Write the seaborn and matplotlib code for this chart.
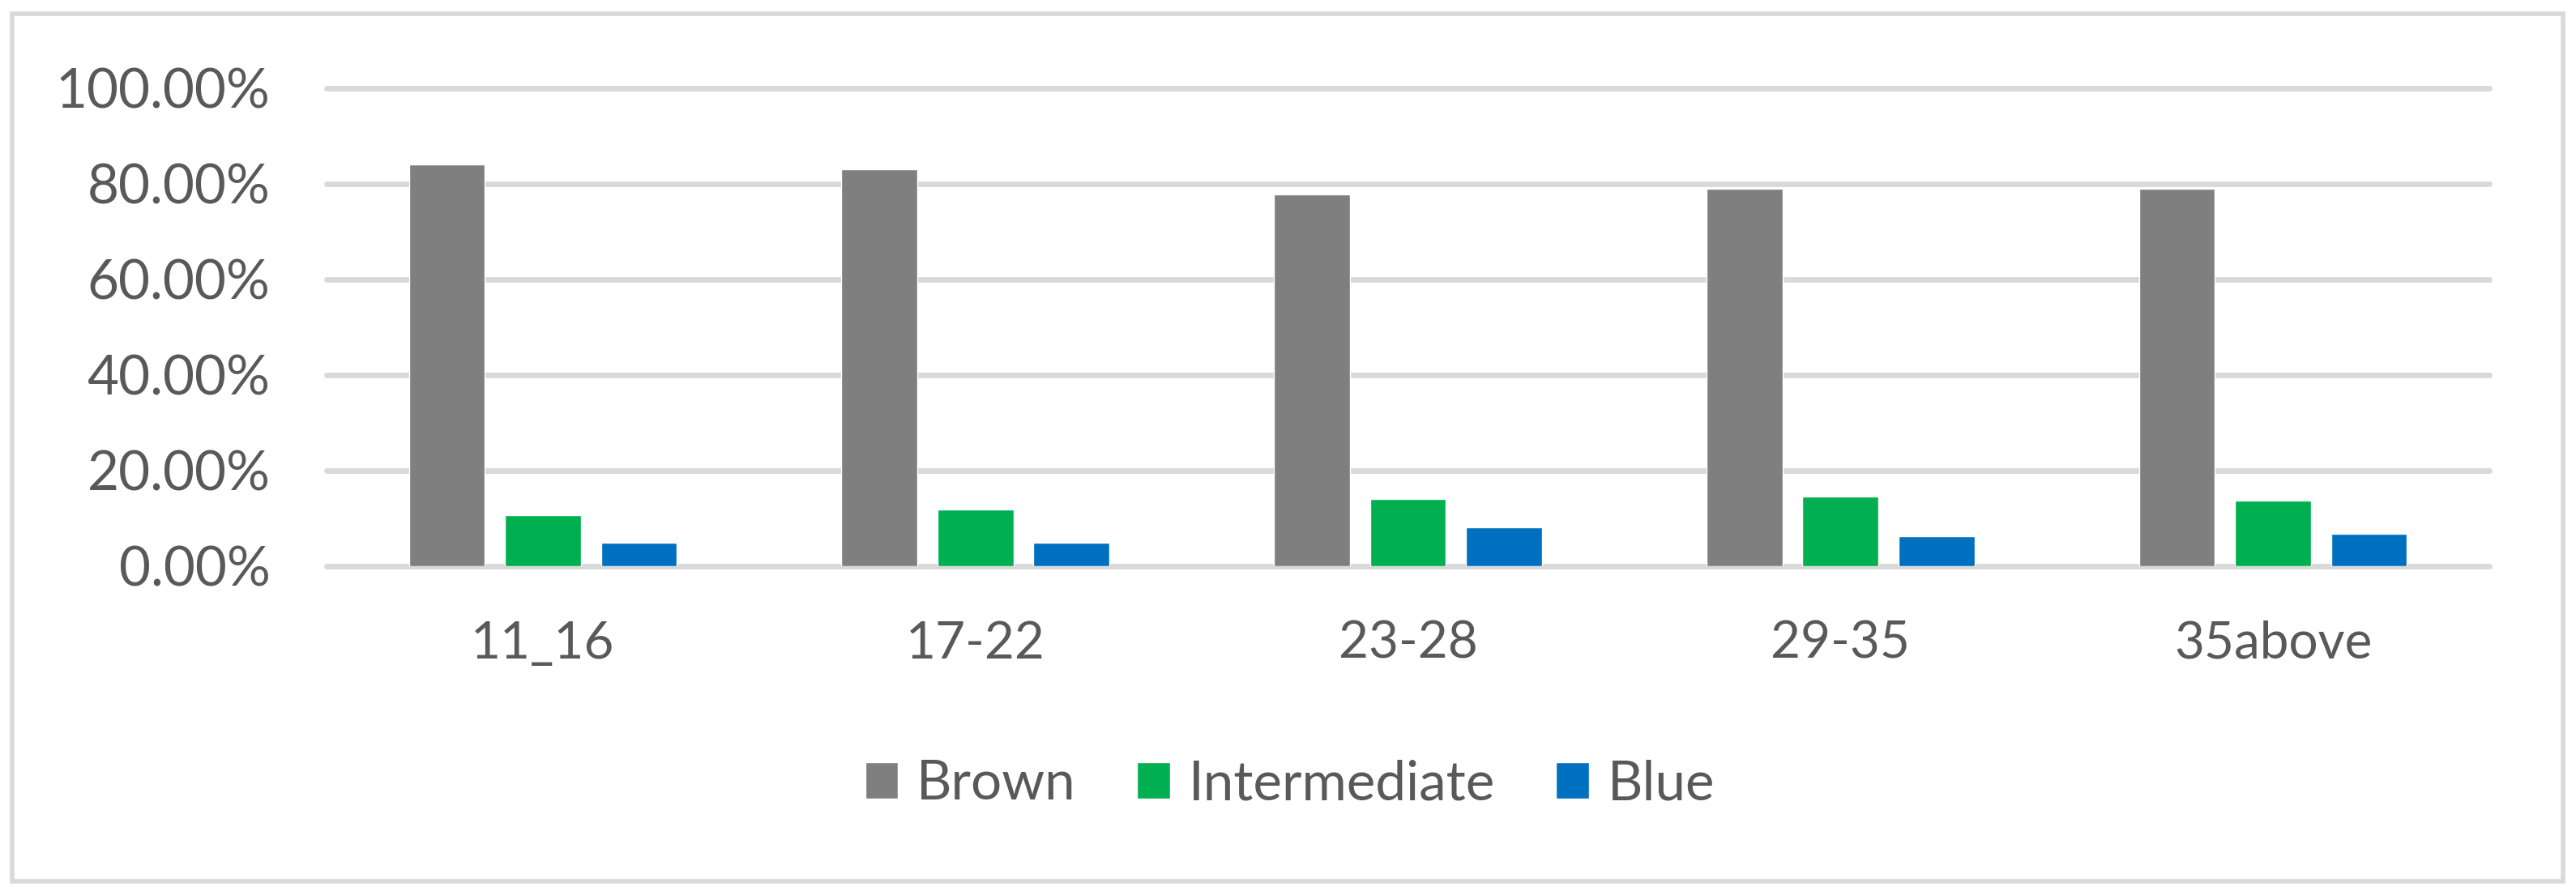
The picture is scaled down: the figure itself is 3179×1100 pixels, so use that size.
import matplotlib
matplotlib.use("Agg")
import matplotlib.pyplot as plt
import numpy as np
import pandas as pd
import seaborn as sns
from matplotlib.patches import Rectangle
from matplotlib.ticker import PercentFormatter

categories = ["11_16", "17-22", "23-28", "29-35", "35above"]
series = ["Brown", "Intermediate", "Blue"]
brown = [0.840, 0.831, 0.778, 0.790, 0.790]
intermediate = [0.106, 0.119, 0.141, 0.146, 0.138]
blue = [0.050, 0.050, 0.082, 0.063, 0.068]
y_ticks = [0.0, 0.2, 0.4, 0.6, 0.8, 1.0]

colors = {"Brown": "#7F7F7F", "Intermediate": "#00B050", "Blue": "#0070C0"}
TEXT = "#595959"
GRID = "#D9D9D9"

df = pd.DataFrame({
    "group": categories * 3,
    "series": ["Brown"] * 5 + ["Intermediate"] * 5 + ["Blue"] * 5,
    "value": brown + intermediate + blue,
})

sns.set_theme(style="white")
plt.rcParams["font.family"] = ["Lato", "DejaVu Sans"]

W, H = 3179, 1100
fig = plt.figure(figsize=(W / 100, H / 100), dpi=100)
ax = fig.add_axes([403 / W, 1 - 699 / H, (3072 - 403) / W, (699 - 109) / H])

sns.barplot(
    data=df, x="group", y="value", hue="series",
    order=categories, hue_order=series, palette=colors,
    width=0.666, gap=0.21, saturation=1, ax=ax, zorder=3,
)

ax.set_ylim(0, 1.0)
ax.set_yticks(y_ticks)
ax.yaxis.set_major_formatter(PercentFormatter(1.0, decimals=2))
ax.set_xlabel("")
ax.set_ylabel("")
for s in ax.spines.values():
    s.set_visible(False)
ax.tick_params(axis="both", length=0, colors=TEXT)
ax.tick_params(axis="x", labelsize=46, pad=48)
ax.tick_params(axis="y", labelsize=48.5, pad=50)
ax.yaxis.grid(True, color=GRID, linewidth=5, zorder=0)
ax.set_axisbelow(True)
for gl in ax.get_ygridlines():
    gl.set_clip_on(False)

sns.move_legend(
    ax, "center", bbox_to_anchor=(1592 / W, 1 - 968 / H),
    bbox_transform=fig.transFigure, ncol=3, frameon=False, title=None,
    fontsize=48.5, handlelength=0.6, handleheight=0.65,
    handletextpad=0.34, columnspacing=1.12, labelcolor=TEXT,
)

# light grey frame around the whole chart
fig.patches.append(Rectangle(
    (15 / W, 12 / H), (3163 - 15) / W, (1088 - 17) / H,
    transform=fig.transFigure, fill=False, edgecolor=GRID, linewidth=4,
))

fig.savefig("out.png", dpi=100, facecolor="white")
